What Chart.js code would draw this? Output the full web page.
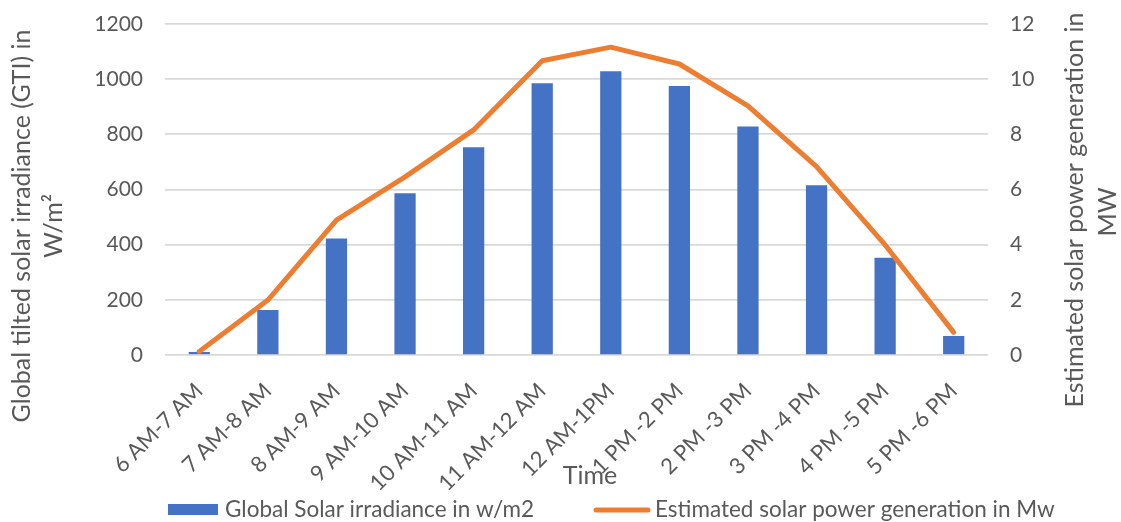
<!DOCTYPE html>
<html>
<head>
<meta charset="utf-8">
<script src="https://cdn.jsdelivr.net/npm/chart.js@4.4.1/dist/chart.umd.min.js"></script>
<style>
  html, body { margin: 0; padding: 0; background: #ffffff; }
  #wrap { width: 1121px; height: 522px; }
</style>
</head>
<body>
<div id="wrap"><canvas id="c" width="1121" height="522"></canvas></div>
<script>
// ---- data ----
const categories = ['6 AM-7 AM', '7 AM-8 AM', '8 AM-9 AM', '9 AM-10 AM', '10 AM-11 AM', '11 AM-12 AM',
                    '12 AM-1PM', '1 PM -2 PM', '2 PM -3 PM', '3 PM -4 PM', '4 PM -5 PM', '5 PM -6 PM'];
const irradiance = [11, 163, 422, 586, 753, 985, 1029, 975, 828, 615, 353, 69];
const powerMW = [0.13, 1.99, 4.89, 6.46, 8.16, 10.67, 11.16, 10.55, 9.03, 6.83, 3.99, 0.82];
const leftTicks = [0, 200, 400, 600, 800, 1000, 1200];
const rightTicks = [0, 2, 4, 6, 8, 10, 12];
const leftTitle = ['Global tilted solar irradiance (GTI) in', 'W/m²'];
const rightTitle = ['Estimated solar power generation in', 'MW'];
const xTitle = 'Time';
const seriesNames = ['Global Solar irradiance in w/m2', 'Estimated solar power generation in Mw'];

// ---- style ----
const BLUE = '#4472C4', ORANGE = '#ED7D31', TEXT = '#595959', GRID = '#D9D9D9';
const FAMILY = 'Lato, "Open Sans", sans-serif';

const textPlugin = {
  id: 'excelText',
  afterDraw(chart) {
    const ctx = chart.ctx;
    ctx.save();
    ctx.fillStyle = TEXT;
    ctx.textAlign = 'center';
    ctx.textBaseline = 'middle';
    const drawRot = (txt, x, y) => {
      ctx.save(); ctx.translate(x, y); ctx.rotate(-Math.PI / 2);
      ctx.fillText(txt, 0, 0); ctx.restore();
    };
    // axis titles
    ctx.font = '25px ' + FAMILY;
    drawRot(leftTitle[0], 22, 226);
    drawRot(leftTitle[1], 54, 226);
    drawRot(rightTitle[0], 1075, 210);
    drawRot(rightTitle[1], 1108, 212);
    ctx.fillText(xTitle, 590, 476);
    // legend
    ctx.font = '22.5px ' + FAMILY;
    ctx.fillStyle = BLUE;
    ctx.fillRect(168, 504, 50, 11);
    ctx.fillStyle = TEXT;
    ctx.textAlign = 'left';
    ctx.fillText(seriesNames[0], 225, 510);
    ctx.strokeStyle = ORANGE;
    ctx.lineWidth = 5;
    ctx.lineCap = 'round';
    ctx.beginPath(); ctx.moveTo(596, 510); ctx.lineTo(648, 510); ctx.stroke();
    ctx.fillText(seriesNames[1], 655, 510);
    ctx.restore();
  }
};

const plainTick = v => String(v);
const fixVertical = width => s => { s.width = width; s.paddingTop = 0; s.paddingBottom = 0; };

new Chart(document.getElementById('c'), {
  type: 'bar',
  data: {
    labels: categories,
    datasets: [
      {
        type: 'bar', label: seriesNames[0], data: irradiance, yAxisID: 'y',
        backgroundColor: BLUE, barPercentage: 0.31, categoryPercentage: 1, order: 2
      },
      {
        type: 'line', label: seriesNames[1], data: powerMW, yAxisID: 'y1',
        borderColor: ORANGE, backgroundColor: ORANGE, borderWidth: 5, pointRadius: 0,
        tension: 0, borderCapStyle: 'round', borderJoinStyle: 'round', fill: false, order: 1
      }
    ]
  },
  options: {
    responsive: false,
    animation: false,
    devicePixelRatio: 1,
    layout: { padding: { top: 24, right: 0, bottom: 30, left: 0 } },
    plugins: { legend: { display: false }, tooltip: { enabled: false } },
    scales: {
      x: {
        grid: { display: false }, border: { display: false },
        ticks: { color: TEXT, font: { family: FAMILY, size: 22 }, minRotation: 45, maxRotation: 45, autoSkip: false, padding: 15 },
        afterFit: s => { s.height = 137; }
      },
      y: {
        position: 'left', min: 0, max: 1200,
        afterBuildTicks: s => { s.ticks = leftTicks.map(v => ({ value: v })); },
        grid: { color: GRID, lineWidth: 1.7, drawTicks: false }, border: { display: false },
        ticks: { color: TEXT, font: { family: FAMILY, size: 21 }, padding: 22, callback: plainTick },
        afterFit: fixVertical(165)
      },
      y1: {
        position: 'right', min: 0, max: 12,
        afterBuildTicks: s => { s.ticks = rightTicks.map(v => ({ value: v })); },
        grid: { display: false, drawTicks: false }, border: { display: false },
        ticks: { color: TEXT, font: { family: FAMILY, size: 21 }, padding: 22, callback: plainTick },
        afterFit: fixVertical(133)
      }
    }
  },
  plugins: [textPlugin]
});
</script>
</body>
</html>
